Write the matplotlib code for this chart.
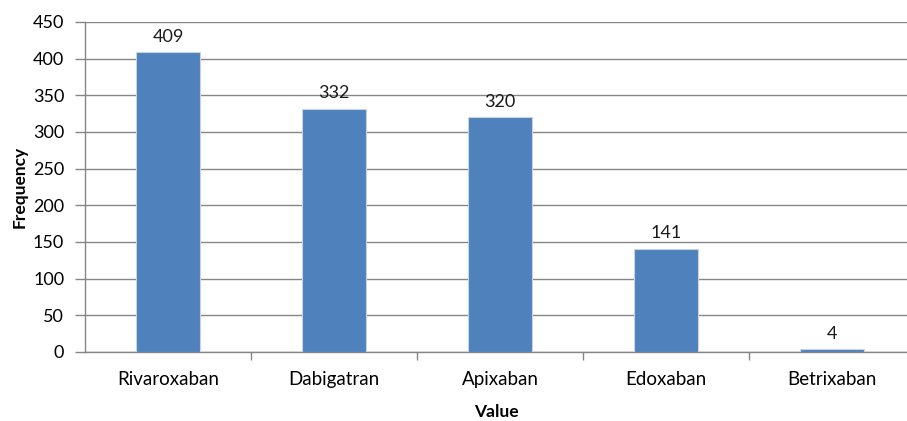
import matplotlib
matplotlib.use('Agg')
from matplotlib import pyplot as plt
import numpy as np

drugs = ['Rivaroxaban', 'Dabigatran', 'Apixaban', 'Edoxaban', 'Betrixaban']
counts = [409, 332, 320, 141, 4]
yticks = [0, 50, 100, 150, 200, 250, 300, 350, 400, 450]

plt.rcParams['font.family'] = ['Lato', 'DejaVu Sans']

fig = plt.figure(figsize=(9.07, 4.21), dpi=100)
ax = fig.add_axes((85/907, 69/421, 822/907, 330/421))

x = np.arange(len(drugs))
gray = '#868686'
ax.bar(x, counts, width=0.39, color='#4F81BD', edgecolor='#c9d3e0',
       linewidth=0.8, zorder=3)
for xi, c in zip(x, counts):
    ax.text(xi, c + 10, str(c), ha='center', va='bottom', fontsize=13,
            color='#1a1a1a')

ax.set_ylim(0, 450)
ax.set_xlim(-0.5, 4.5 - 8/166)
ax.set_yticks(yticks)
ax.set_xticks(x)
ax.set_xticklabels(drugs)
ax.set_xticks(np.arange(0.5, 4.5, 1), minor=True)
ax.tick_params(axis='x', which='major', length=0, pad=14, labelsize=13.5)
ax.tick_params(axis='x', which='minor', length=6, color=gray, width=1)
ax.tick_params(axis='y', length=7, color=gray, width=1, labelsize=13, pad=8)
ax.grid(axis='y', color=gray, linewidth=1, zorder=0)
for s in ['top', 'right']:
    ax.spines[s].set_visible(False)
for s in ['left', 'bottom']:
    ax.spines[s].set_color(gray)
    ax.spines[s].set_linewidth(1)

ax.set_ylabel('Frequency', fontsize=12.5, fontweight='bold', labelpad=4)
ax.set_xlabel('Value', fontsize=12.5, fontweight='bold', labelpad=11)

fig.savefig('out.png', dpi=100)
